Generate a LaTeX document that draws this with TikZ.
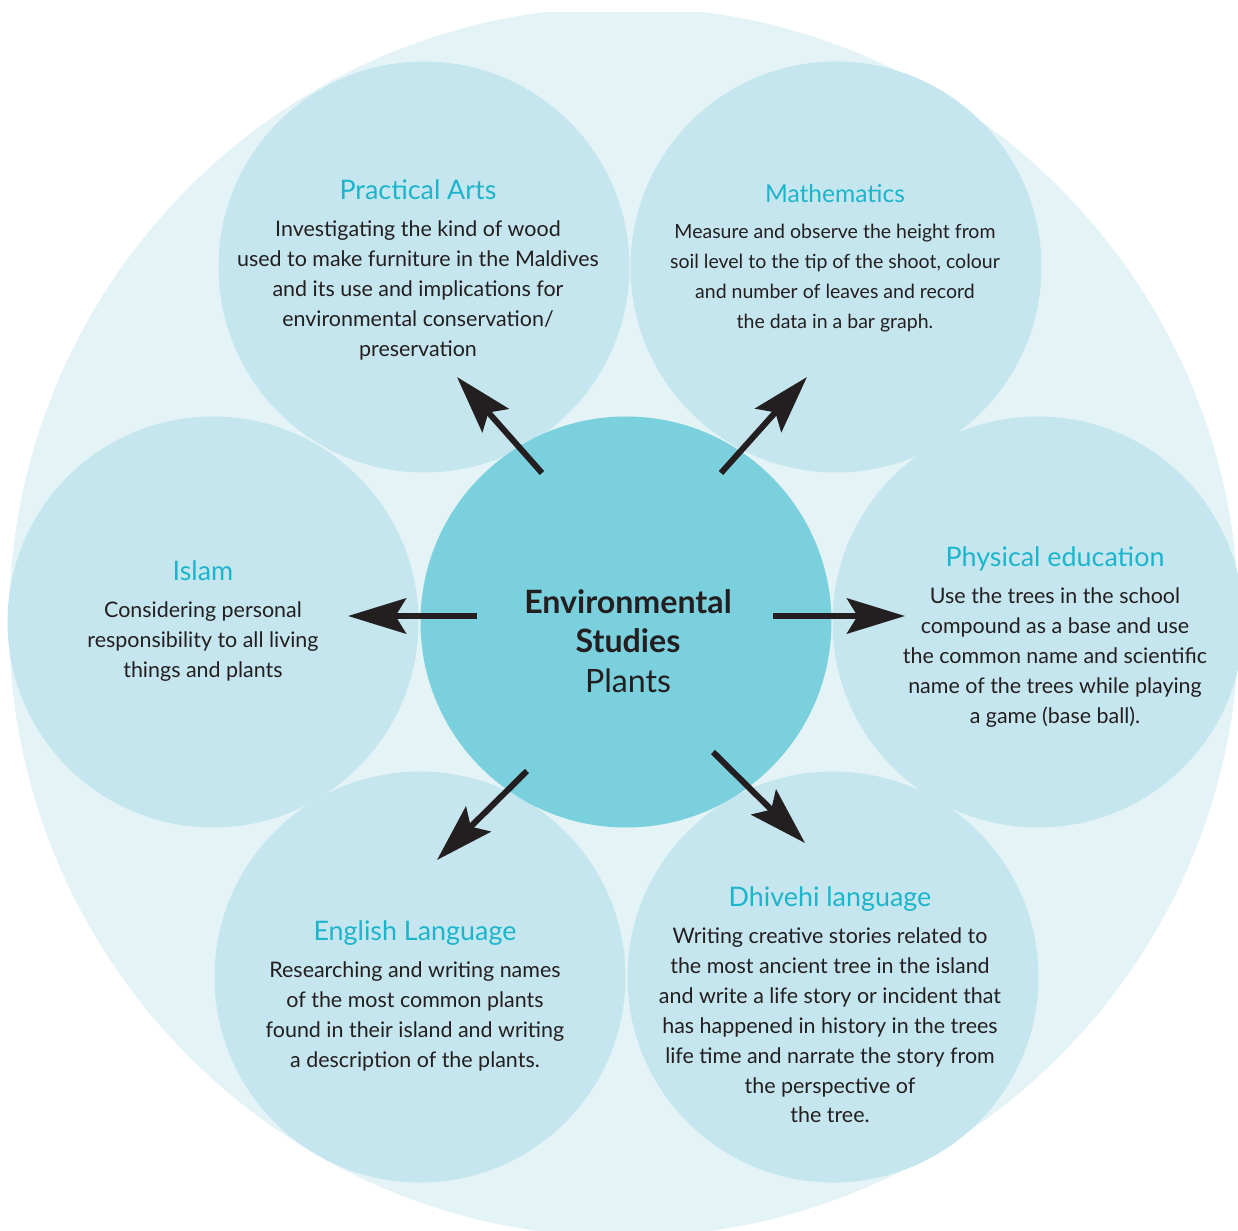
\documentclass[tikz,border=0pt]{standalone}
\usepackage{fontspec}
\setmainfont{Lato}
\usepackage{tikz}
\usetikzlibrary{arrows.meta,positioning}
\definecolor{haze}      {HTML}{E3F3F6}
\definecolor{paleblue}  {HTML}{C5E6EE}
\definecolor{hubteal}   {HTML}{7AD0DD}
\definecolor{titlecyan} {HTML}{1DB5CC}
\definecolor{inkgray}   {HTML}{231F20}

\begin{document}
\begin{tikzpicture}[
  topic/.style={circle,fill=paleblue,minimum size=8.22cm,inner sep=0pt},
  hub/.style={circle,fill=hubteal,minimum size=8.22cm,inner sep=0pt},
  ttl/.style={font=\fontsize{15.3}{17}\selectfont,text=titlecyan,inner sep=0pt,
              text height=10pt,text depth=3pt},
  body/.style={font=\fontsize{12.2}{17}\selectfont,text=inkgray,align=center,
               inner sep=0pt},
  hubtext/.style={font=\fontsize{18.3}{22.5}\selectfont,text=inkgray,align=center,
                  inner sep=0pt},
  arr/.style={-{Stealth[length=33pt,width=20pt,inset=6pt]},line width=3.4pt,
              draw=inkgray},
  node distance=9pt,
  x=1cm, y=1cm
]
\useasboundingbox (-12.52,-12.18) rectangle (12.24,12.44);

%% outer disc, cut flat at the top
\begin{scope}
  \clip (-12.52,-12.18) rectangle (12.24,12.18);
  \fill[haze] (-0.04,0) circle (12.3);
\end{scope}

%% six subject circles round the hub
\node[topic] (pa)  at (-4.04, 7.10) {};
\node[topic] (ma)  at ( 4.20, 7.10) {};
\node[topic] (isl) at (-8.26, 0)    {};
\node[topic] (pe)  at ( 8.24, 0)    {};
\node[topic] (en)  at (-4.12,-7.10) {};
\node[topic] (dv)  at ( 4.14,-7.10) {};

%% hub
\node[hub] (es) at (0,0) {};
\node[hubtext] (es-t) at (0.04,-0.38)
  {\bfseries Environmental\\\bfseries Studies\\Plants};

%% Practical Arts
\node[ttl] (pa-t) at (-4.16,8.58) {Practical Arts};
\node[body,below=of pa-t] (pa-b)
  {Investigating the kind of wood\\used to make furniture in the Maldives\\
   and its use and implications for\\environmental conservation/\\preservation};

%% Mathematics (set a little smaller)
\node[ttl,font=\fontsize{14}{16}\selectfont] (ma-t) at (4.18,8.52) {Mathematics};
\node[body,font=\fontsize{11.1}{17.2}\selectfont,below=of ma-t] (ma-b)
  {Measure and observe the height from\\soil level to the tip of the shoot, colour\\
   and number of leaves and record\\the data in a bar graph.};

%% Islam
\node[ttl] (isl-t) at (-8.46,0.96) {Islam};
\node[body,below=of isl-t] (isl-b)
  {Considering personal\\responsibility to all living\\things and plants};

%% Physical education
\node[ttl] (pe-t) at (8.58,1.24) {Physical education};
\node[body,below=of pe-t] (pe-b)
  {Use the trees in the school\\compound as a base and use\\
   the common name and scientific\\name of the trees while playing\\
   a game (base ball).};

%% English Language
\node[ttl] (en-t) at (-4.22,-6.24) {English Language};
\node[body,below=of en-t] (en-b)
  {Researching and writing names\\of the most common plants\\
   found in their island and writing\\a description of the plants.};

%% Dhivehi language
\node[ttl] (dv-t) at (4.08,-5.56) {Dhivehi language};
\node[body,below=of dv-t] (dv-b)
  {Writing creative stories related to\\the most ancient tree in the island\\
   and write a life story or incident that\\has happened in history in the trees\\
   life time and narrate the story from\\the perspective of\\the tree.};

%% arrow ends
\coordinate (a-pa)  at (-1.68, 2.98);  \coordinate (b-pa)  at (-3.38, 4.90);
\coordinate (a-ma)  at ( 1.90, 2.98);  \coordinate (b-ma)  at ( 3.62, 4.90);
\coordinate (a-isl) at (-2.98, 0.12);  \coordinate (b-isl) at (-5.56, 0.12);
\coordinate (a-pe)  at ( 2.94, 0.12);  \coordinate (b-pe)  at ( 5.58, 0.12);
\coordinate (a-en)  at (-1.98,-2.98);  \coordinate (b-en)  at (-3.78,-4.76);
\coordinate (a-dv)  at ( 1.74,-2.60);  \coordinate (b-dv)  at ( 3.58,-4.42);

%% hub -> subjects
\foreach \s in {pa,ma,isl,pe,en,dv}
  \draw[arr] (a-\s) -- (b-\s);

\end{tikzpicture}
\end{document}
